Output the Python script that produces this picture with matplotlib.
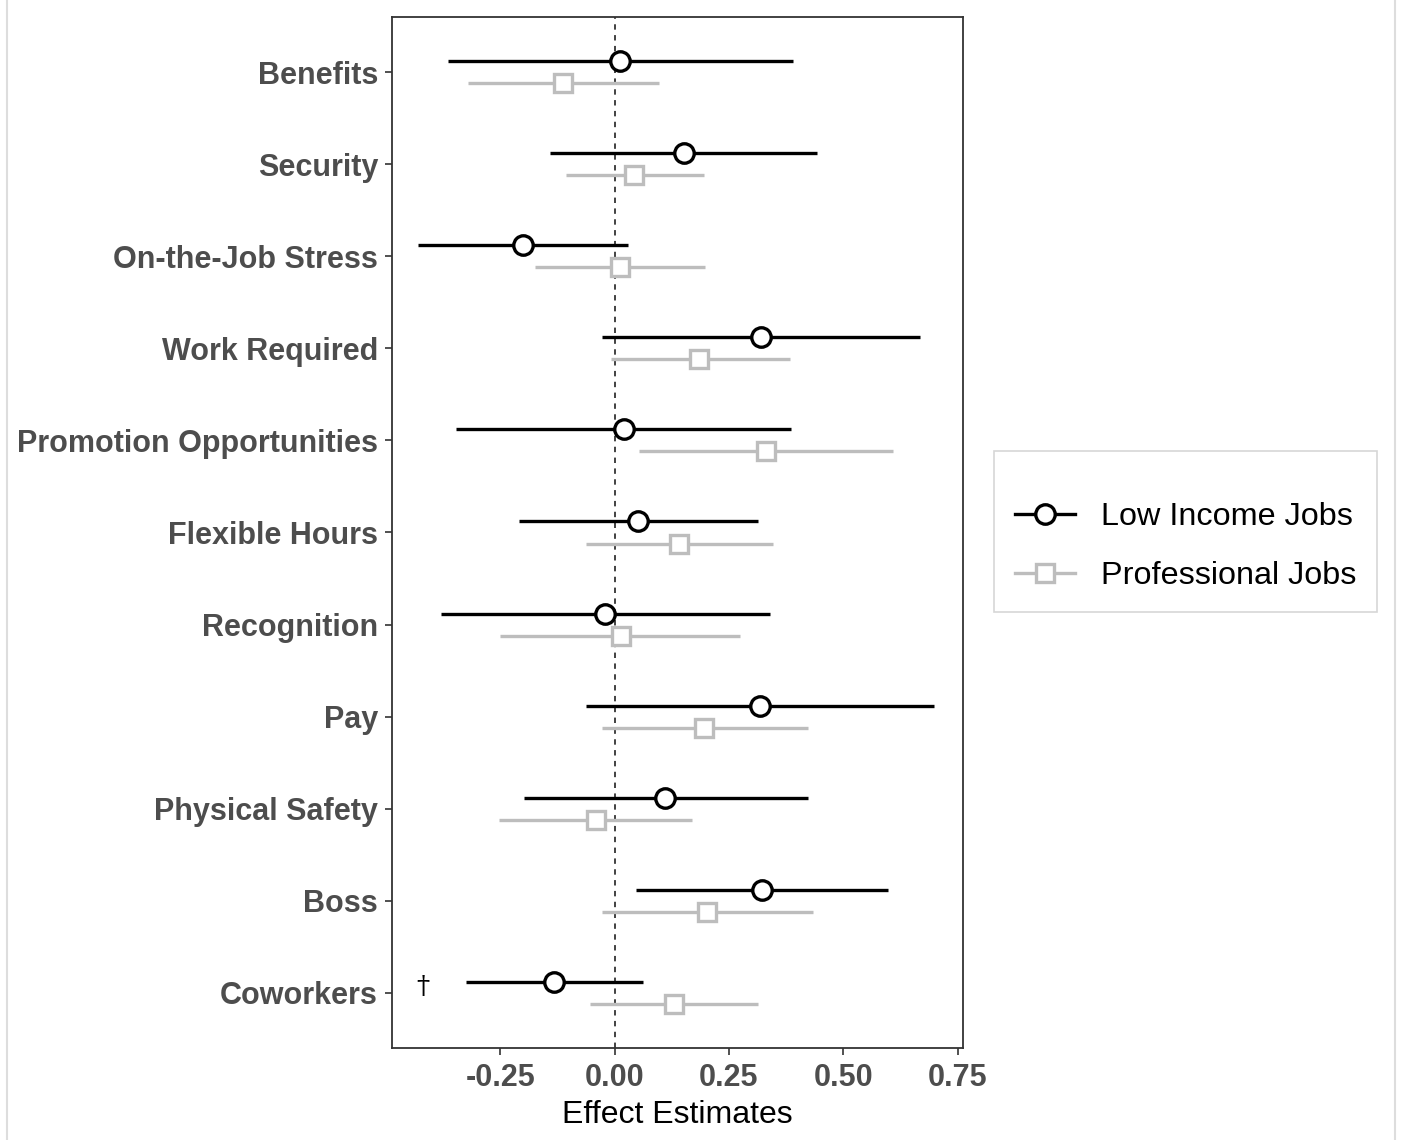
import matplotlib

matplotlib.use("Agg")
import matplotlib.pyplot as plt
from matplotlib.lines import Line2D
import numpy as np

plt.rcParams["font.family"] = ["Liberation Sans", "DejaVu Sans"]

CATEGORIES = ["Benefits", "Security", "On-the-Job Stress", "Work Required",
              "Promotion Opportunities", "Flexible Hours", "Recognition", "Pay",
              "Physical Safety", "Boss", "Coworkers"]

LOW_EST = [0.011, 0.151, -0.201, 0.320, 0.020, 0.052, -0.020, 0.317, 0.111, 0.322, -0.133]
LOW_LO = [-0.365, -0.141, -0.430, -0.028, -0.346, -0.209, -0.380, -0.063, -0.198, 0.046, -0.325]
LOW_HI = [0.391, 0.443, 0.029, 0.667, 0.385, 0.313, 0.339, 0.698, 0.422, 0.598, 0.063]

PRO_EST = [-0.112, 0.043, 0.011, 0.185, 0.330, 0.141, 0.013, 0.196, -0.041, 0.202, 0.130]
PRO_LO = [-0.321, -0.107, -0.175, -0.009, 0.054, -0.063, -0.250, -0.028, -0.252, -0.028, -0.054]
PRO_HI = [0.098, 0.196, 0.197, 0.383, 0.609, 0.346, 0.274, 0.422, 0.170, 0.433, 0.313]

XTICKS = [-0.25, 0.0, 0.25, 0.50, 0.75]

GRAY = "#bdbdbd"
TXT = "#4d4d4d"
FS = 22

fig = plt.figure(figsize=(14.01, 11.40), dpi=100)
ax = fig.add_axes([392 / 1401, 1 - 1048 / 1140, (963 - 392) / 1401, (1048 - 17) / 1140])

n = len(CATEGORIES)
y = np.arange(n)[::-1] + 1.0
dodge = 0.12

ax.axvline(0, color="#333333", ls=(0, (3, 3)), lw=1.3, zorder=1)

ax.hlines(y + dodge, LOW_LO, LOW_HI, color="black", lw=2.4, zorder=2)
ax.plot(LOW_EST, y + dodge, "o", ms=14, mfc="white", mec="black", mew=2.4, zorder=4)
ax.hlines(y - dodge, PRO_LO, PRO_HI, color=GRAY, lw=2.4, zorder=2)
ax.plot(PRO_EST, y - dodge, "s", ms=13, mfc="white", mec=GRAY, mew=2.4, zorder=3)

# significance marker next to Coworkers
ax.text(-0.42, y[-1] + 0.07, "\u2020", ha="center", va="center", fontsize=19,
        family="DejaVu Serif", color="black")

ax.set_xlim(-0.487, 0.762)
ax.set_ylim(0.4, n + 0.6)
ax.set_yticks(y)
ax.set_yticklabels(CATEGORIES)
ax.set_xticks(XTICKS)
ax.set_xticklabels([f"{t:.2f}" for t in XTICKS])
for lab in ax.get_xticklabels() + ax.get_yticklabels():
    lab.set_fontweight("bold")
    lab.set_color(TXT)
    lab.set_fontsize(FS)
ax.tick_params(length=5, width=1.2, color="#333333")
ax.tick_params(axis="y", pad=5)
ax.tick_params(axis="x", pad=6)
ax.set_xlabel("Effect Estimates", fontsize=23, color="black", labelpad=5)
for sp in ax.spines.values():
    sp.set_color("#333333")
    sp.set_linewidth(1.3)

handles = [
    Line2D([], [], color="black", lw=2.4, marker="o", ms=14, mfc="white", mec="black", mew=2.4),
    Line2D([], [], color=GRAY, lw=2.4, marker="s", ms=13, mfc="white", mec=GRAY, mew=2.4),
]
leg = fig.legend(handles, ["Low Income Jobs", "Professional Jobs"], loc="upper left",
                 bbox_to_anchor=(994 / 1401, 1 - 451 / 1140), bbox_transform=fig.transFigure,
                 borderaxespad=0, fontsize=23.3, frameon=True, fancybox=False,
                 title=" ", title_fontsize=1,
                 handlelength=1.85, handletextpad=0.8, borderpad=0.65, labelspacing=0.9)
leg.get_frame().set_edgecolor("#cccccc")
leg.get_frame().set_linewidth(1.2)

# faint frame lines at the image edges
fig.add_artist(Line2D([7 / 1401, 7 / 1401], [0, 1], color="#dddddd", lw=1.5))
fig.add_artist(Line2D([1395 / 1401, 1395 / 1401], [0, 1], color="#dddddd", lw=1.5))

fig.savefig("out.png", dpi=100)
